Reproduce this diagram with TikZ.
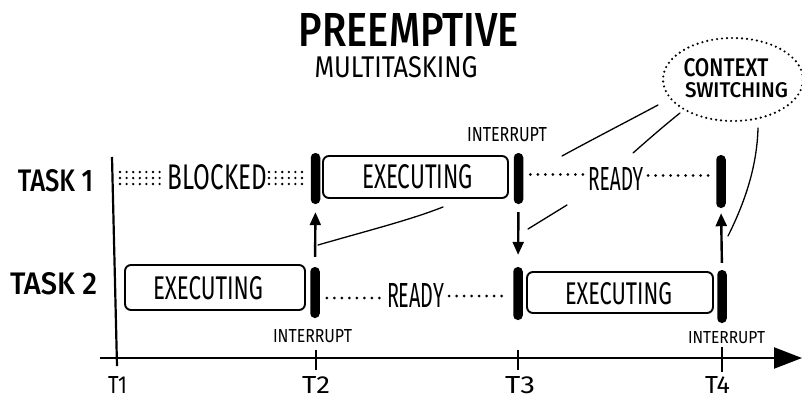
\documentclass[tikz,border=0pt]{standalone}
\usepackage{fontspec}
\usepackage{graphicx}
\setmainfont{Fira Sans}
\newfontfamily\titlefont{Fira Sans Medium}
\usetikzlibrary{arrows.meta,shapes.geometric}
\newcommand{\fitt}[3]{\resizebox{#1pt}{#2pt}{#3}}
\begin{document}
\begin{tikzpicture}[x=1pt,y=-1pt,
 lbl/.style={inner sep=0pt, outer sep=0pt},
 bar/.style={fill=black, draw=none, rounded corners=4.5pt, minimum width=9.5pt, inner sep=0pt},
 taskbox/.style={draw=black, line width=1.9pt, rounded corners=6pt, inner sep=0pt},
 arr/.style={line width=2.4pt, -{Triangle[length=13pt,width=11pt]}},
 dotline/.style={line width=3pt, line cap=round, dash pattern=on 0pt off 7.5pt},
 hatch/.style={line width=2.6pt, line cap=round, dash pattern=on 0pt off 6.6pt},
 thinline/.style={line width=1.3pt, line cap=round},
 axisline/.style={line width=2.2pt},
]
\useasboundingbox (0,0) rectangle (802,399);

% titles
\node[lbl] (title) at (409,29.5) {\fitt{220}{33}{\titlefont PREEMPTIVE}};
\node[lbl] (subtitle) at (396,67.5) {\fitt{163}{21}{MULTITASKING}};

% context switching bubble
\node[draw, ellipse, line width=2.4pt, line cap=round, dash pattern=on 0pt off 5pt,
      minimum width=140pt, minimum height=83pt, inner sep=0pt] (ctx) at (733,79.5) {};
\node[lbl] (ctxA) at (726,68) {\fitt{85}{18}{\titlefont CONTEXT}};
\node[lbl] (ctxB) at (736.5,90.5) {\fitt{103}{15}{\titlefont SWITCHING}};

% task labels
\node[lbl] (task1) at (55.5,181) {\fitt{75}{22}{\titlefont TASK 1}};
\node[lbl] (task2) at (53.5,284) {\fitt{87}{22}{\titlefont TASK 2}};

% axes
\coordinate (ytop) at (112,157);
\coordinate (ybot) at (117,366);
\draw[axisline] (ytop) -- (ybot);
\coordinate (xorg) at (100,358);
\coordinate (xend) at (802,358);
\draw[axisline, -{Triangle[length=28pt,width=21pt]}] (xorg) -- (xend);

% ticks
\coordinate (k2a) at (316,350); \coordinate (k2b) at (316,370);
\coordinate (k3a) at (518,350); \coordinate (k3b) at (518,370);
\coordinate (k4a) at (722,347); \coordinate (k4b) at (722,372);
\draw[axisline] (k2a) -- (k2b);
\draw[axisline] (k3a) -- (k3b);
\draw[axisline] (k4a) -- (k4b);

\node[lbl] (T1) at (117.5,385) {\fitt{19}{17}{T1}};
\node[lbl] (T2) at (316,385) {\fitt{28}{17}{T2}};
\node[lbl] (T3) at (520,385) {\fitt{30}{17}{T3}};
\node[lbl] (T4) at (717.5,385) {\fitt{25}{17}{T4}};

% task 1 row
\node[lbl] (blocked) at (217.5,177.5) {\fitt{99}{25}{BLOCKED}};
\foreach \yy in {172,178,184}{
  \draw[hatch] (120,\yy) -- (161,\yy);
  \draw[hatch] (269,\yy) -- (304,\yy);
}
\node[bar, minimum height=51pt] (b2t) at (315.5,178.5) {};
\node[taskbox, minimum width=185pt, minimum height=42pt] (ex1) at (415.5,177) {};
\node[lbl] (ex1t) at (417.5,177) {\fitt{111}{24}{EXECUTING}};
\node[bar, minimum height=51pt] (b3t) at (518.5,178.5) {};
\node[lbl] (ready1) at (615.5,178.5) {\fitt{55}{23}{READY}};
\node[bar, minimum height=53pt] (b4t) at (721,181.5) {};
\draw[dotline] ([xshift=7pt,yshift=4pt]b3t.east) -- ([xshift=-5pt,yshift=4pt]ready1.west);
\draw[dotline] ([xshift=5pt,yshift=3pt]ready1.east) -- ([xshift=-5pt,yshift=3pt]ready1.east -| b4t.west);

% task 2 row
\node[taskbox, minimum width=180pt, minimum height=45pt] (ex2) at (215,287.5) {};
\node[lbl] (ex2t) at (208,288.5) {\fitt{110}{23}{EXECUTING}};
\node[bar, minimum height=51pt] (b2b) at (315,292.5) {};
\node[lbl] (ready2) at (415.5,295) {\fitt{57}{24}{READY}};
\node[bar, minimum height=53pt] (b3b) at (518,293.5) {};
\node[taskbox, minimum width=186pt, minimum height=41pt] (ex3) at (620,292.5) {};
\node[lbl] (ex3t) at (618.5,294) {\fitt{107}{22}{EXECUTING}};
\node[bar, minimum height=53pt] (b4b) at (722,296.5) {};
\draw[dotline] ([xshift=7pt,yshift=-3pt]b2b.east |- ready2.west) -- ([xshift=-5pt,yshift=-3pt]ready2.west);
\draw[dotline] ([xshift=5pt,yshift=-1pt]ready2.east) -- ([xshift=-6pt,yshift=-1pt]ready2.east -| b3b.west);

% interrupt labels
\node[lbl] (int2) at (312.5,336.5) {\fitt{79}{13}{INTERRUPT}};
\node[lbl] (int3) at (507,134.5) {\fitt{80}{14}{INTERRUPT}};
\node[lbl] (int4) at (726.5,337.5) {\fitt{77}{12}{INTERRUPT}};

% switching arrows
\draw[arr, shorten <=10pt, shorten >=8pt] (b2b.north) -- (b2t.south);
\draw[arr, shorten <=8pt, shorten >=12pt] (b3t.south) -- (b3b.north);
\draw[arr, shorten <=7pt, shorten >=5pt] (b4b.north) -- (b4t.south);

% pointer lines to bubble
\coordinate (a1) at (318,245); \coordinate (a2) at (443,207);
\coordinate (bb1) at (562,156); \coordinate (bb2) at (658,105);
\coordinate (c1) at (528,229); \coordinate (c2) at (567,205);
\coordinate (d1) at (633,153); \coordinate (d2) at (680,113);
\coordinate (e1) at (728,236); \coordinate (e2) at (758,128);
\draw[thinline] (a1) .. controls (370,230) and (410,220) .. (a2);
\draw[thinline] (bb1) .. controls (595,138) and (630,120) .. (bb2);
\draw[thinline] (c1) -- (c2);
\draw[thinline] (d1) .. controls (650,138) and (665,125) .. (d2);
\draw[thinline] (e1) .. controls (746,200) and (757,165) .. (e2);
\end{tikzpicture}
\end{document}
